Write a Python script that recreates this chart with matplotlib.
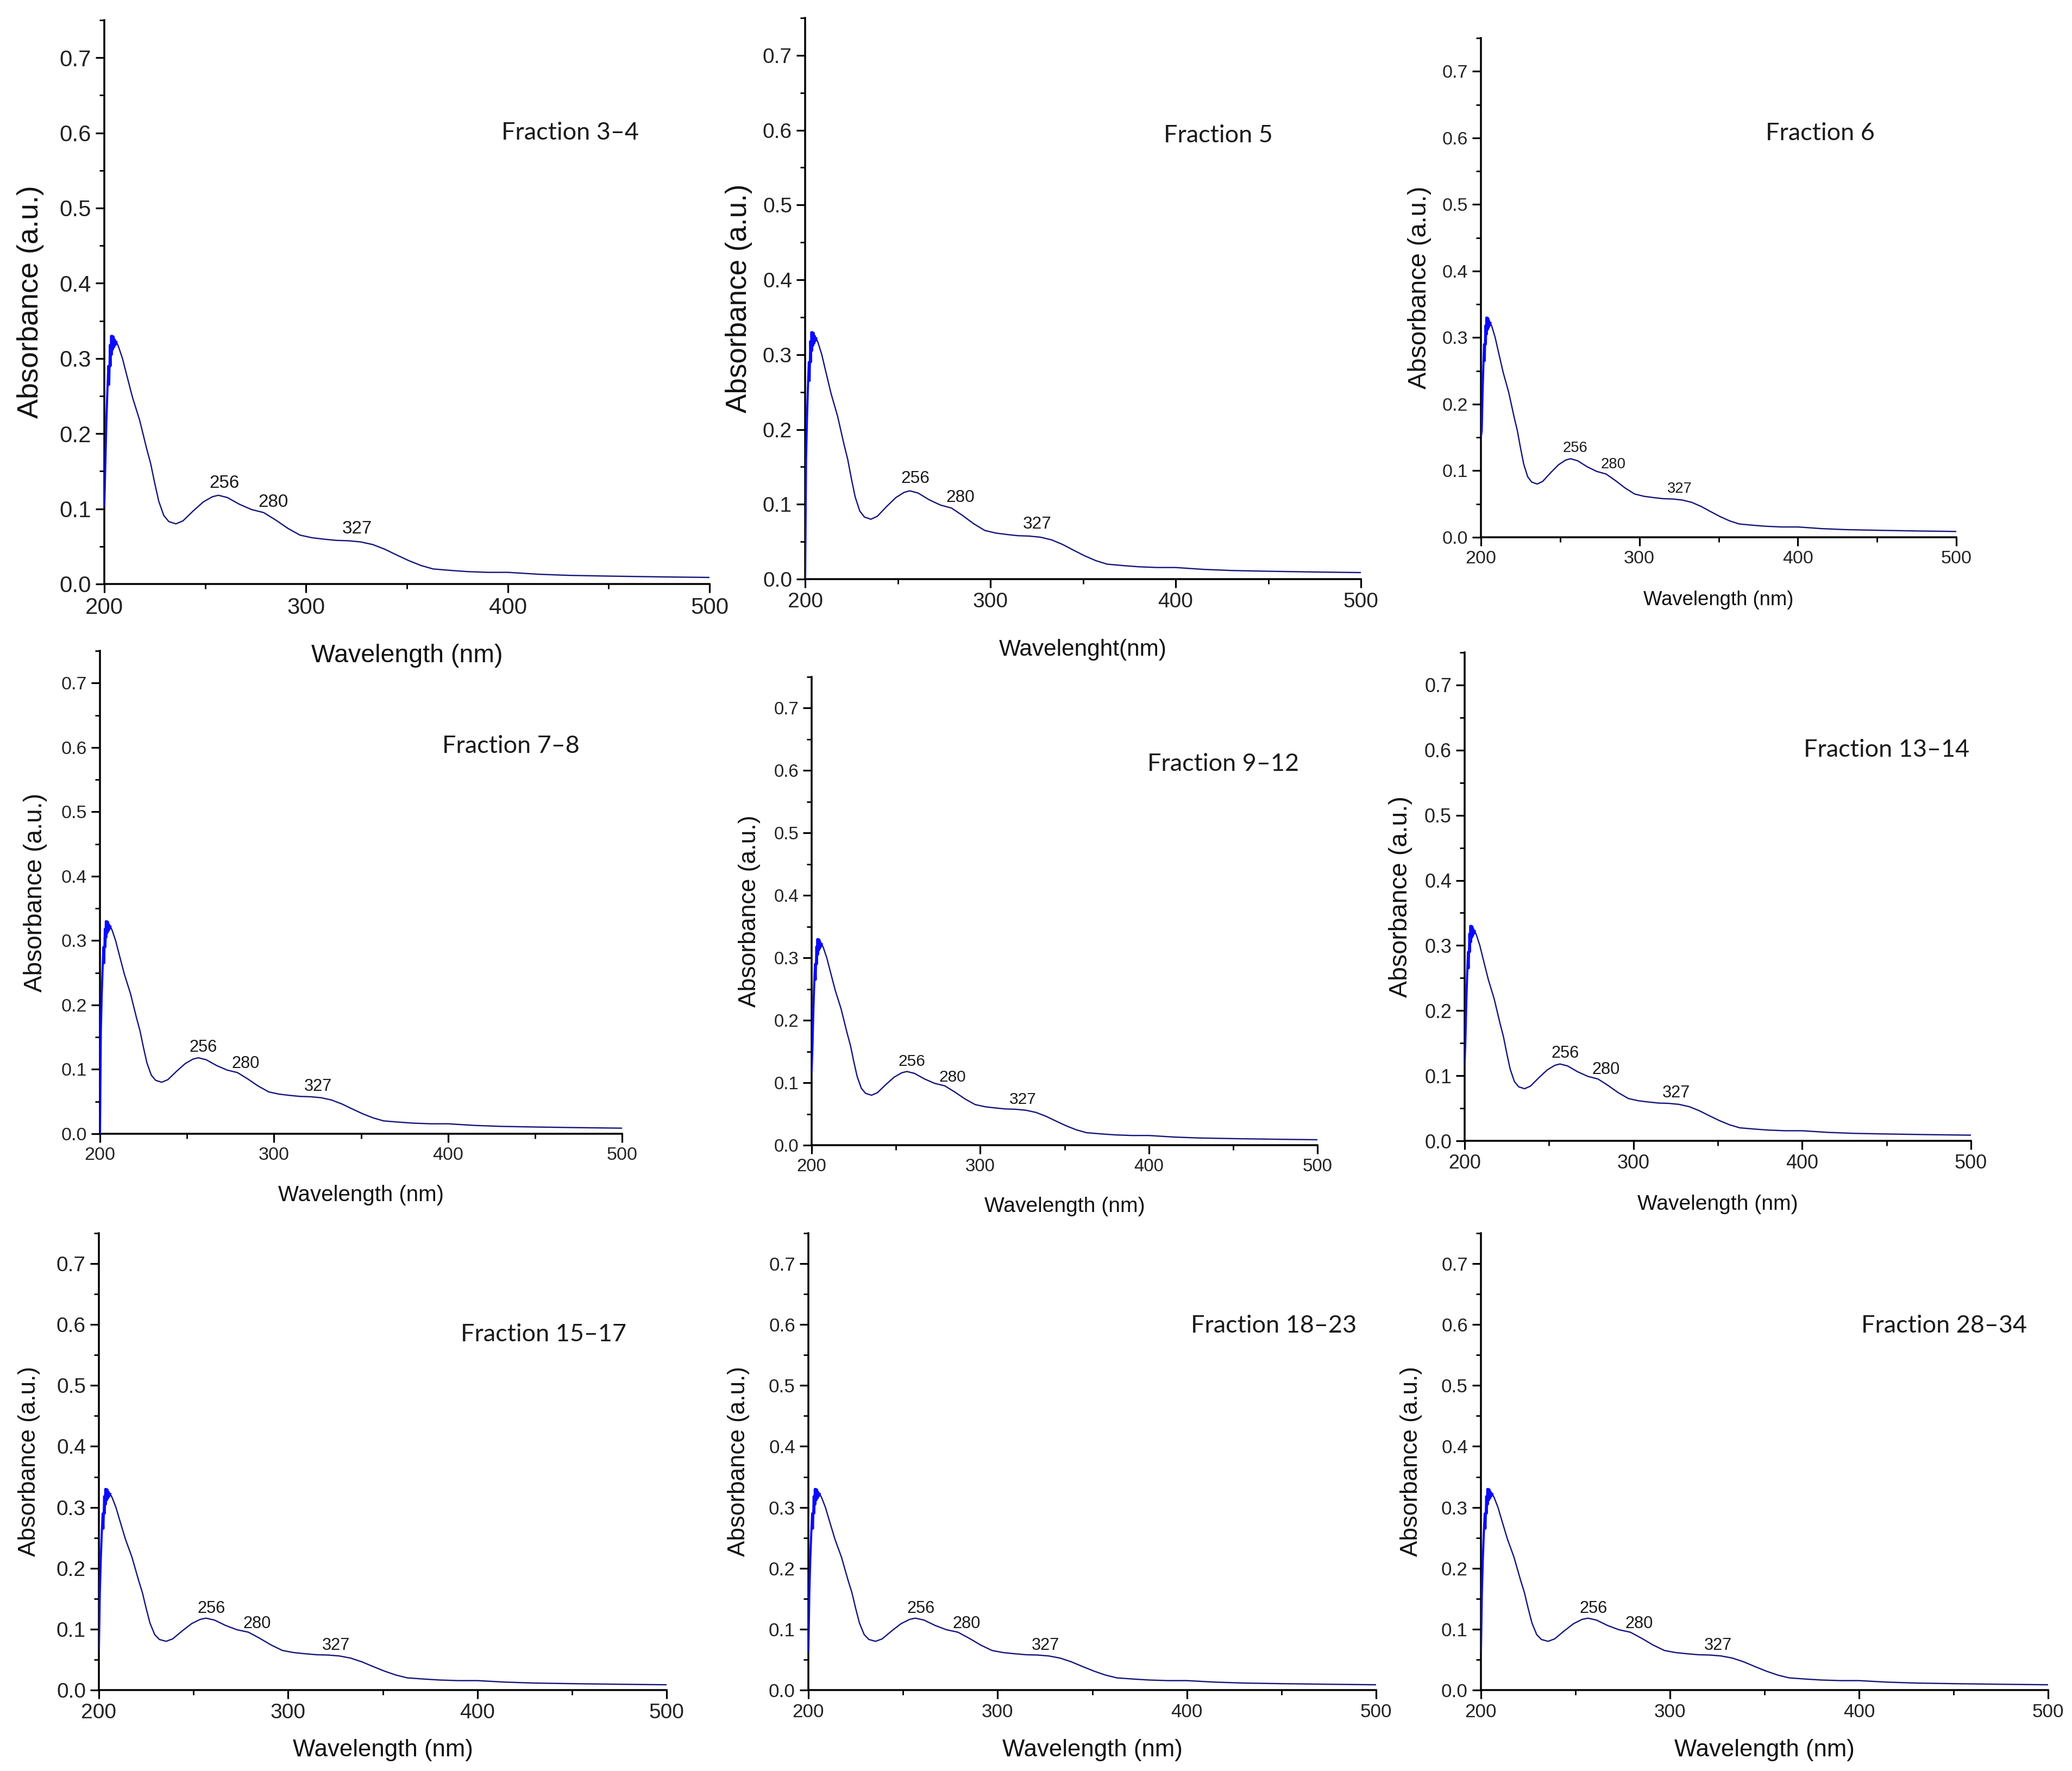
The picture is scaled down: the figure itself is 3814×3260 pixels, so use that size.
import matplotlib
matplotlib.use("Agg")
import matplotlib.pyplot as plt
from matplotlib import font_manager
from matplotlib.ticker import MultipleLocator

# spectrum (same curve in every panel)
wavelength = [200.0, 200.5, 201.0, 201.5, 202.0, 202.4, 202.8, 203.1, 203.4, 203.7,
              204.0, 204.3, 204.6, 204.9, 205.2, 205.5, 206.0, 207.0, 209.0, 211.0,
              214.0, 217.5, 221.0, 223.0, 225.0, 227.0, 229.5, 232.0, 235.5, 239.0,
              244.0, 249.0, 253.5, 256.5, 261.0, 267.0, 273.0, 279.0, 285.0, 291.0,
              297.0, 303.0, 309.0, 315.0, 321.0, 327.0, 333.0, 339.0, 345.0, 351.0,
              357.0, 363.0, 372.0, 380.0, 390.0, 400.0, 415.0, 430.0, 450.0, 475.0,
              500.0]
absorbance = [0.105, 0.160, 0.215, 0.255, 0.290, 0.265, 0.318, 0.290, 0.330, 0.305,
              0.330, 0.312, 0.329, 0.315, 0.325, 0.318, 0.322, 0.316, 0.300, 0.279,
              0.248, 0.218, 0.180, 0.160, 0.134, 0.110, 0.091, 0.083, 0.080, 0.084,
              0.097, 0.109, 0.116, 0.118, 0.115, 0.106, 0.099, 0.095, 0.085, 0.074,
              0.065, 0.0615, 0.0596, 0.058, 0.0575, 0.056, 0.0525, 0.0463, 0.0385, 0.031,
              0.0246, 0.020, 0.018, 0.0165, 0.0155, 0.0155, 0.013, 0.0115, 0.0105, 0.0095,
              0.0087]

# first reading at 200 nm differs a bit between panels
start_abs = [0.105, 0.0, 0.152, 0.0, 0.119, 0.12, 0.068, 0.065, 0.065]

fractions = ["Fraction 3\u20134", "Fraction 5", "Fraction 6",
             "Fraction 7\u20138", "Fraction 9\u201312", "Fraction 13\u201314",
             "Fraction 15\u201317", "Fraction 18\u201323", "Fraction 28\u201334"]
xlabels = ["Wavelength (nm)", "Wavelenght(nm)", "Wavelength (nm)",
           "Wavelength (nm)", "Wavelength (nm)", "Wavelength (nm)",
           "Wavelength (nm)", "Wavelength (nm)", "Wavelength (nm)"]
peak_names = ["256", "280", "327"]
peak_pos = [(259.5, 0.134), (283.7, 0.109), (325.4, 0.073)]

# layout in output pixels: left, right, bottom(y=0), top(y=0.75)
boxes = [(192, 1306, 1075, 37), (1482, 2505, 1066, 33), (2726, 3601, 989, 70),
         (184, 1145, 2087, 1198), (1494, 2425, 2108, 1246), (2696, 3628, 2100, 1201),
         (182, 1227, 3111, 2270), (1488, 2533, 3111, 2270), (2726, 3770, 3111, 2270)]
title_at = [(431, 0.600), (423, 0.593), (414, 0.607), (436, 0.602), (444, 0.610),
            (450, 0.600), (435, 0.584), (446, 0.598), (445, 0.598)]
tick_px = [42, 39, 34, 34, 33, 36, 39, 35, 35]
ylab_px = [54, 53, 47, 46, 44.5, 46.6, 44, 44, 44]
ylab_x = [56, 1360, 2613, 65, 1380, 2578, 54, 1360, 2598]
xlab_px = [56, 51, 44, 48.5, 47, 47, 52.7, 52.7, 52.7]
xlab_y = [1207, 1196, 1105, 2200, 2221, 2217, 3222, 3221, 3221]
peak_px = [40, 38, 33, 37, 36, 37, 37, 37, 37]

W, H = 3814, 3260
DPI = 100
PT = 72.0 / DPI

names = {f.name for f in font_manager.fontManager.ttflist}
if "Liberation Sans Narrow" in names:
    narrow, nscale = "Liberation Sans Narrow", 1.0
else:
    narrow, nscale = "Liberation Sans", 0.83
title_font = "Lato" if "Lato" in names else "DejaVu Sans"

plt.rcParams["font.family"] = "Liberation Sans"

fig = plt.figure(figsize=(W / DPI, H / DPI), dpi=DPI)
fig.patch.set_facecolor("white")

navy = "#15157a"
bright = "#0a0aff"

for i in range(9):
    L, R, B, T = boxes[i]
    ax = fig.add_axes([L / W, 1 - B / H, (R - L) / W, (B - T) / H])

    y = list(absorbance)
    y[0] = start_abs[i]
    ax.plot(wavelength, y, color=navy, lw=2.4 * PT, zorder=3)
    jag = [k for k, w in enumerate(wavelength) if w <= 206.0]
    ax.plot([wavelength[k] for k in jag], [y[k] for k in jag],
            color=bright, lw=4.0 * PT, zorder=4)

    ax.set_xlim(200, 500)
    ax.set_ylim(0, 0.75)
    ax.xaxis.set_major_locator(MultipleLocator(100))
    ax.xaxis.set_minor_locator(MultipleLocator(50))
    ax.yaxis.set_major_locator(MultipleLocator(0.1))
    ax.yaxis.set_minor_locator(MultipleLocator(0.05))
    ax.yaxis.set_major_formatter(plt.FuncFormatter(lambda v, p: "%.1f" % v))

    for s in ["top", "right"]:
        ax.spines[s].set_visible(False)
    for s in ["left", "bottom"]:
        ax.spines[s].set_linewidth(3.5 * PT)
        ax.spines[s].set_color("black")
    ax.spines["bottom"].set_bounds(200, 500)

    ax.tick_params(which="major", direction="out", length=16 * PT, width=3.2 * PT,
                   labelsize=tick_px[i] * PT, pad=8 * PT, colors="black")
    ax.tick_params(which="minor", direction="out", length=9 * PT, width=2.8 * PT)
    for lab in ax.get_xticklabels() + ax.get_yticklabels():
        lab.set_color("#222222")

    for name, (px, py) in zip(peak_names, peak_pos):
        ax.text(px, py, name, ha="center", va="center", fontfamily=narrow,
                fontsize=peak_px[i] * nscale * PT, color="#1a1a1a")

    ax.text(title_at[i][0], title_at[i][1], fractions[i], ha="center", va="center",
            fontfamily=title_font, fontsize=45 * PT, color="#1a1a1a")

    fig.text(ylab_x[i] / W, 1 - (T + B) / 2 / H, "Absorbance (a.u.)", rotation=90,
             ha="center", va="center", fontsize=ylab_px[i] * PT, color="#111111")
    fig.text((L + R) / 2 / W, 1 - xlab_y[i] / H, xlabels[i], ha="center", va="center",
             fontfamily=narrow, fontsize=xlab_px[i] * nscale * PT, color="#111111")

fig.savefig("out.png", dpi=DPI, facecolor="white")
